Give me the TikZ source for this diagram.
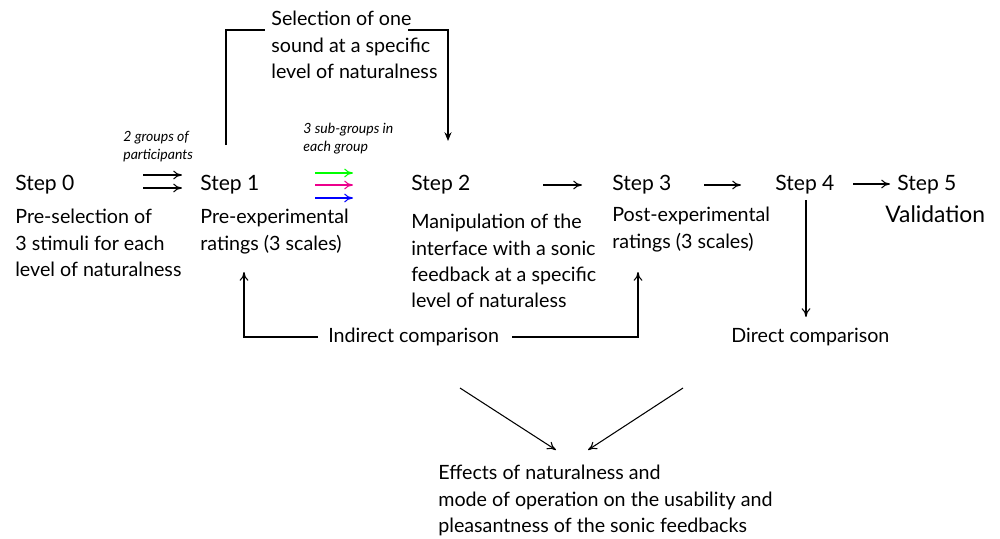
\documentclass[tikz,border=0pt]{standalone}
\usepackage{fontspec}
\setmainfont{Lato}
\usetikzlibrary{arrows.meta}
\begin{document}
\begin{tikzpicture}[x=0.02cm,y=-0.02cm,
  txt/.style={anchor=north west,inner sep=0pt,align=left,font=\fontsize{11.2}{15}\selectfont},
  steplbl/.style={anchor=north west,inner sep=0pt,align=left,font=\fontsize{12}{15}\selectfont},
  small/.style={anchor=north west,inner sep=0pt,align=left,font=\fontsize{8}{10.2}\selectfont\itshape},
  arr/.style={-{To[length=5pt,width=5pt]},line width=0.6pt},
  ln/.style={line width=0.6pt}]
\useasboundingbox (0,0) rectangle (1000,538);
% steps
\node[steplbl] (s0) at (15,175) {Step 0};
\node[txt] (d0) at (15,209) {Pre-selection of\\3 stimuli for each\\level of naturalness};
\node[steplbl] (s1) at (200,175) {Step 1};
\node[txt] (d1) at (200,209) {Pre-experimental\\ratings (3 scales)};
\node[steplbl] (s2) at (411,175) {Step 2};
\node[txt] (d2) at (411,214) {Manipulation of the\\interface with a sonic\\feedback at a specific\\level of naturaless};
\node[steplbl] (s3) at (612,175) {Step 3};
\node[txt] (d3) at (612,207) {Post-experimental\\ratings (3 scales)};
\node[steplbl] (s4) at (775,175) {Step 4};
\node[steplbl] (s5) at (897,175) {Step 5};
\node[txt,font=\fontsize{13}{15}\selectfont] (d5) at (885,205) {Validation};
\node[txt] (sel) at (271,11) {Selection of one\\sound at a specific\\level of naturalness};
\node[small] (g2) at (123,131) {2 groups of\\participants};
\node[small] (g3) at (303,123) {3 sub-groups in\\each group};
\node[txt] (ind) at (328,328) {Indirect comparison};
\node[txt] (dir) at (731,328) {Direct comparison};
\node[txt] (eff) at (438,465) {Effects of naturalness and\\mode of operation on the usability and\\pleasantness of the sonic feedbacks};
% coordinates
\coordinate (a0a) at (143,175); \coordinate (a0b) at (182,175);
\coordinate (a0c) at (143,188); \coordinate (a0d) at (182,188);
\draw[arr] (a0a) -- (a0b);
\draw[arr] (a0c) -- (a0d);
\coordinate (c1a) at (315,173); \coordinate (c1b) at (353,173);
\coordinate (c2a) at (315,185); \coordinate (c2b) at (353,185);
\coordinate (c3a) at (315,198); \coordinate (c3b) at (353,198);
\draw[arr,green] (c1a) -- (c1b);
\draw[arr,magenta] (c2a) -- (c2b);
\draw[arr,blue] (c3a) -- (c3b);
% top bracket
\coordinate (t1) at (226,145); \coordinate (t2) at (226,30); \coordinate (t3) at (265,30);
\draw[ln] (t1) -- (t2) -- (t3);
\coordinate (t4) at (408,30); \coordinate (t5) at (448,30); \coordinate (t6) at (448,141);
\draw[ln,-{Stealth[length=5pt,width=4pt]}] (t4) -- (t5) -- (t6);
% step arrows
\coordinate (b1) at (543,185); \coordinate (b2) at (582,185);
\draw[arr] (b1) -- (b2);
\coordinate (b3) at (704,185); \coordinate (b4) at (741,185);
\draw[arr] (b3) -- (b4);
\coordinate (b5) at (853,184); \coordinate (b6) at (890,184);
\draw[arr] (b5) -- (b6);
% direct
\coordinate (v1) at (806,200); \coordinate (v2) at (806,317);
\draw[arr] (v1) -- (v2);
% indirect
\coordinate (i1) at (318,337); \coordinate (i2) at (244,337); \coordinate (i3) at (244,272);
\draw[arr] (i1) -- (i2) -- (i3);
\coordinate (i4) at (512,337); \coordinate (i5) at (638,337); \coordinate (i6) at (638,272);
\draw[arr] (i4) -- (i5) -- (i6);
% diagonals
\coordinate (e1) at (460,388); \coordinate (e2) at (556,450);
\coordinate (e3) at (683,388); \coordinate (e4) at (588,450);
\draw[arr] (e1) -- (e2);
\draw[arr] (e3) -- (e4);
\end{tikzpicture}
\end{document}
